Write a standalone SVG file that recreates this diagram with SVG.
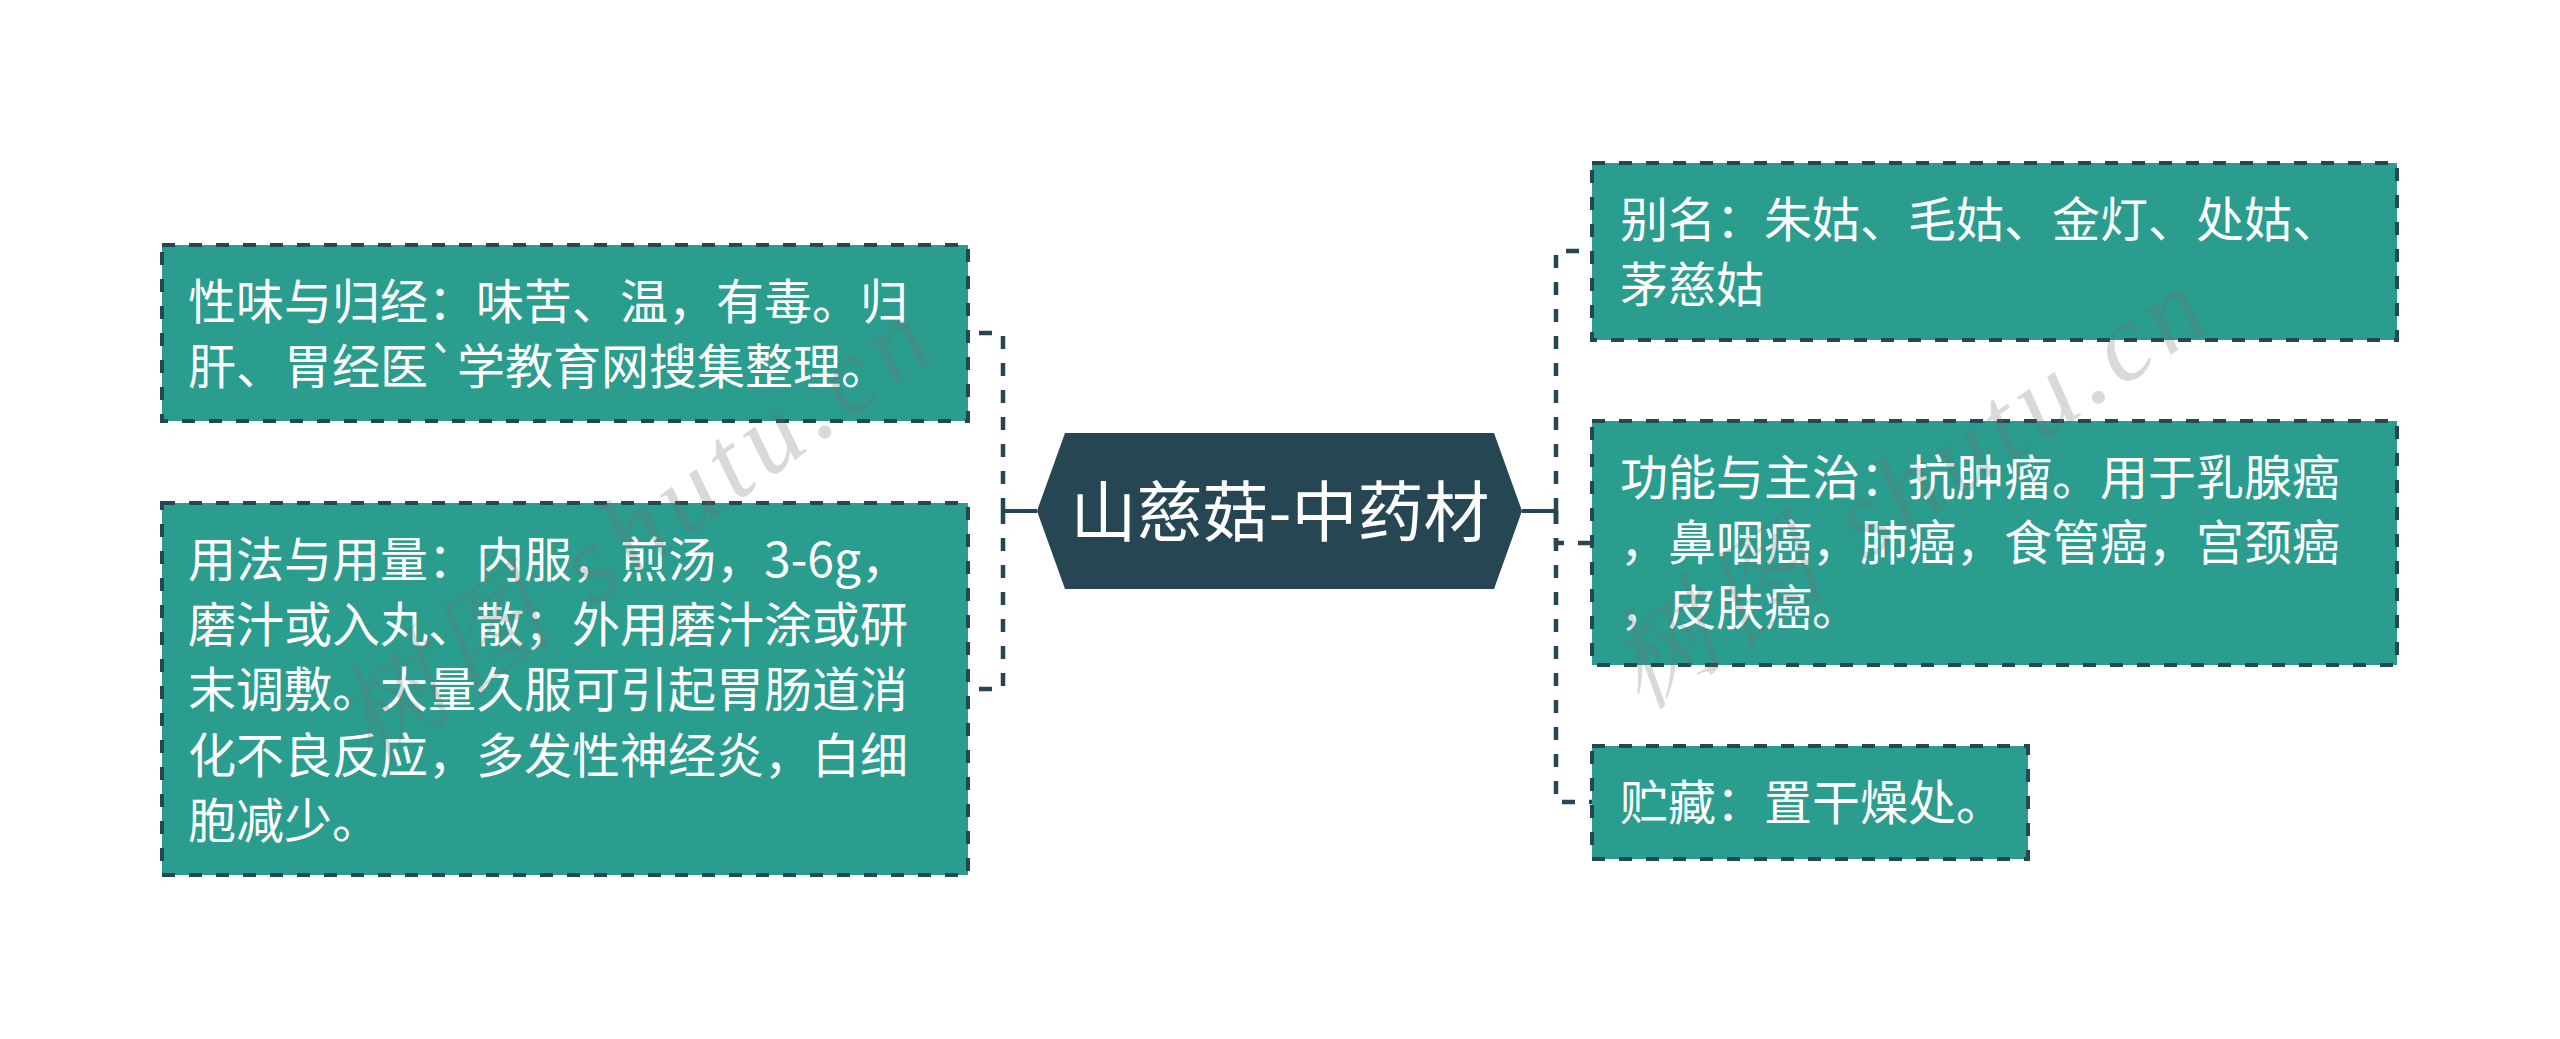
<svg xmlns="http://www.w3.org/2000/svg" width="2560" height="1039" viewBox="0 0 2560 1039">
<style>
.box{fill:#2a9d8f;stroke:#264653;stroke-width:4;stroke-dasharray:13 14;}
.t{font-family:"Noto Sans CJK SC","Noto Sans",sans-serif;font-size:48px;fill:#ffffff;}
.ct{font-family:"Noto Sans CJK SC","Noto Sans",sans-serif;font-size:66px;fill:#ffffff;text-anchor:middle;}
.dash{fill:none;stroke:#264653;stroke-width:4.5;stroke-dasharray:13 14;}
.solid{fill:none;stroke:#264653;stroke-width:4;}
.wm{font-family:"Liberation Serif","Noto Serif CJK SC","Noto Sans CJK SC",serif;font-style:italic;font-size:110px;fill:#6f6f6f;opacity:0.26;}
</style>
<rect width="2560" height="1039" fill="#ffffff"/>
<g id="connectors">
<path class="solid" d="M1037,511 H1003"/>
<path class="dash" d="M1003,511 V333 H968"/>
<path class="dash" d="M1003,511 V689 H968"/>
<path class="solid" d="M1522,511 H1556"/>
<path class="dash" d="M1556,511 V251 H1592"/>
<path class="dash" d="M1556,511 V543 H1592"/>
<path class="dash" d="M1556,511 V802 H1592"/>
</g>
<g id="center">
<polygon points="1037,511 1065,433 1494,433 1522,511 1494,589 1065,589" fill="#264653"/>
<text class="ct" x="1280" y="536">山慈菇-中药材</text>
</g>
<g id="node-l1">
<rect class="box" x="162" y="245" width="806" height="176"/>
<text class="t" x="188" y="319">性味与归经：味苦、温，有毒。归</text>
<text class="t" x="188" y="384">肝、胃经医`学教育网搜集整理。</text>
</g>
<g id="node-l2">
<rect class="box" x="162" y="503" width="806" height="372"/>
<text class="t" x="188" y="577">用法与用量：内服，煎汤，3-6g，</text>
<text class="t" x="188" y="642">磨汁或入丸、散；外用磨汁涂或研</text>
<text class="t" x="188" y="707">末调敷。大量久服可引起胃肠道消</text>
<text class="t" x="188" y="773">化不良反应，多发性神经炎，白细</text>
<text class="t" x="188" y="838">胞减少。</text>
</g>
<g id="node-r1">
<rect class="box" x="1592" y="163" width="805" height="177"/>
<text class="t" x="1620" y="237">别名：朱姑、毛姑、金灯、处姑、</text>
<text class="t" x="1620" y="302">茅慈姑</text>
</g>
<g id="node-r2">
<rect class="box" x="1592" y="421" width="805" height="244"/>
<text class="t" x="1620" y="495">功能与主治：抗肿瘤。用于乳腺癌</text>
<text class="t" x="1620" y="560">，鼻咽癌，肺癌，食管癌，宫颈癌</text>
<text class="t" x="1620" y="625">，皮肤癌。</text>
</g>
<g id="node-r3">
<rect class="box" x="1592" y="746" width="436" height="113"/>
<text class="t" x="1620" y="820">贮藏：置干燥处。</text>
</g>
<g id="watermark">
<text class="wm" transform="translate(372,767) rotate(-36)" textLength="700" lengthAdjust="spacing">树图 shutu.cn</text>
<text class="wm" transform="translate(1641,712) rotate(-34)" textLength="690" lengthAdjust="spacing">树图 shutu.cn</text>
</g>
</svg>
